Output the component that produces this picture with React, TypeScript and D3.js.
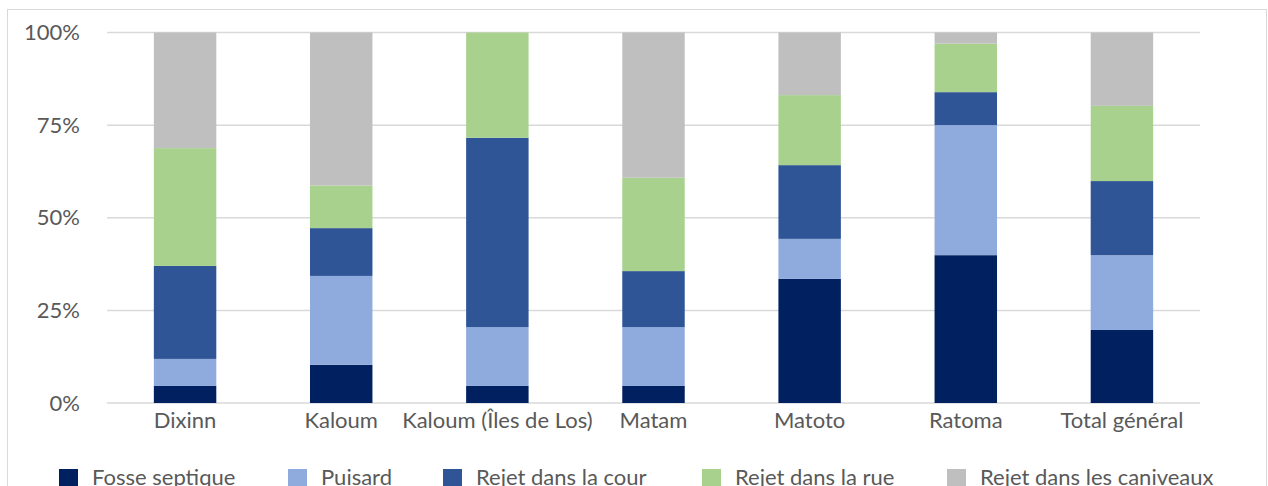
import React from "react";
import * as d3 from "d3";

const categories = ["Dixinn", "Kaloum", "Kaloum (Îles de Los)", "Matam", "Matoto", "Ratoma", "Total général"];
const seriesNames = ["Fosse septique", "Puisard", "Rejet dans la cour", "Rejet dans la rue", "Rejet dans les caniveaux"];
const fosseSeptique = [4.6, 10.3, 4.6, 4.6, 33.5, 39.9, 19.7];
const puisard = [7.3, 24.0, 15.9, 15.9, 10.8, 35.1, 20.2];
const rejetCour = [25.1, 12.9, 51.1, 15.1, 19.9, 8.9, 20.0];
const rejetRue = [31.8, 11.5, 28.4, 25.2, 18.9, 13.1, 20.3];
const rejetCaniveaux = [31.2, 41.3, 0, 39.2, 16.9, 3.0, 19.8];
const yTicks = [0, 0.25, 0.5, 0.75, 1];
const colors = ["#002060", "#8FAADC", "#2F5597", "#A9D18E", "#BFBFBF"];

const W = 1268;
const H = 486;
const FONT = "Lato, 'Open Sans', sans-serif";

export default function App() {
  const seriesValues = [fosseSeptique, puisard, rejetCour, rejetRue, rejetCaniveaux];
  const rows = categories.map((c, i) => {
    const total = seriesValues.reduce((s, arr) => s + arr[i], 0);
    const r: any = { cat: c };
    seriesNames.forEach((n, k) => (r[n] = seriesValues[k][i] / total));
    return r;
  });
  const stacked = d3.stack<any>().keys(seriesNames)(rows);

  const x = d3.scaleBand<string>().domain(categories).range([107, 1200]).paddingInner(0.6).paddingOuter(0.3);
  const y = d3.scaleLinear().domain([0, 1]).range([403, 32.5]);

  const legendX = [59, 288, 443, 702, 947];

  return (
    <div style={{ position: "absolute", left: 0, top: 0 }}>
      <svg width={W} height={H} style={{ display: "block" }}>
        <rect x={0} y={0} width={W} height={H} fill="#fff" />
        <rect x={7.5} y={9.5} width={1259} height={520} fill="#fff" stroke="#D9D9D9" strokeWidth={1} />
        {yTicks.map((t) => (
          <g key={t}>
            <line x1={107} x2={1200} y1={y(t)} y2={y(t)} stroke="#D9D9D9" strokeWidth={1.5} />
            <text x={80} y={y(t)} dy="0.35em" textAnchor="end" fontFamily={FONT} fontSize={22} fill="#595959">
              {d3.format(".0%")(t)}
            </text>
          </g>
        ))}
        {stacked.map((s, k) => (
          <g key={s.key} fill={colors[k]}>
            {s.map((d, i) => (
              <rect
                key={i}
                x={x(categories[i])!}
                width={x.bandwidth()}
                y={y(d[1])}
                height={Math.max(0, y(d[0]) - y(d[1]))}
              />
            ))}
          </g>
        ))}
        {categories.map((c) => (
          <text key={c} x={x(c)! + x.bandwidth() / 2} y={428} textAnchor="middle" fontFamily={FONT} fontSize={22} fill="#595959">
            {c}
          </text>
        ))}
        {seriesNames.map((n, k) => (
          <g key={n}>
            <rect x={legendX[k]} y={469} width={19} height={19} fill={colors[k]} />
            <text x={legendX[k] + 33} y={485} fontFamily={FONT} fontSize={22} fill="#595959">
              {n}
            </text>
          </g>
        ))}
      </svg>
    </div>
  );
}
